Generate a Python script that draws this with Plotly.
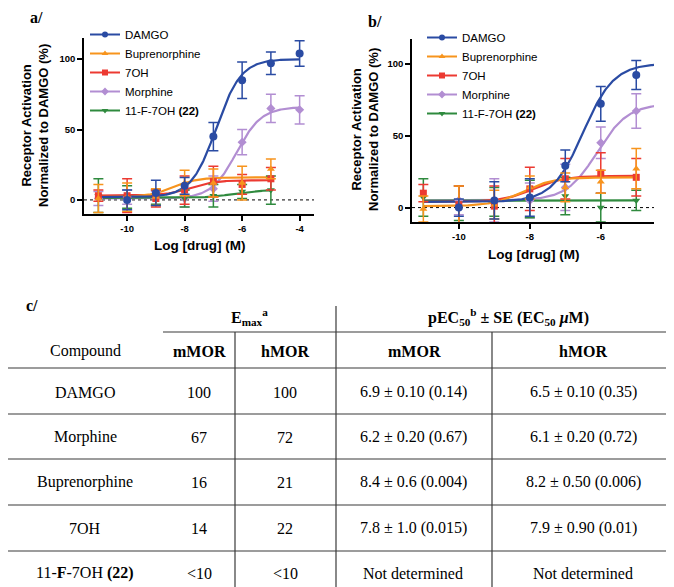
import numpy as np
import plotly.graph_objects as go

W, H = 674, 587

# ---------------- data ----------------
series_names = ["DAMGO", "Buprenorphine", "7OH", "Morphine", "11-F-7OH"]
legend_labels = ["DAMGO", "Buprenorphine", "7OH", "Morphine", "11-F-7OH <b>(22)</b>"]
colors = ["#2a4ba3", "#f7941d", "#ec3a32", "#b28ed2", "#2f8a3e"]
symbols = ["circle", "triangle-up", "square", "diamond", "triangle-down"]

# Panel a (mMOR) measured points
a_x = {
    "DAMGO": [-10, -9, -8, -7, -6, -5, -4],
    "Buprenorphine": [-11, -10, -9, -8, -7, -6, -5],
    "7OH": [-11, -10, -9, -8, -7, -6, -5],
    "Morphine": [-11, -10, -9, -8, -7, -6, -5, -4],
    "11-F-7OH": [-11, -10, -9, -8, -7, -6, -5],
}
a_y = {
    "DAMGO": [0, 5, 10, 45, 85, 97, 104],
    "Buprenorphine": [1, 2, 2, 12, 12, 12, 22],
    "7OH": [3, 3, 1, 7, 13, 11, 15],
    "Morphine": [1, 2, 1, 1, 8, 41, 65, 64],
    "11-F-7OH": [3, 2, 2, 1, 3, 6, 7],
}
a_err = {
    "DAMGO": [7, 9, 6, 10, 13, 8, 9],
    "Buprenorphine": [10, 10, 6, 9, 10, 12, 7],
    "7OH": [4, 12, 6, 10, 11, 7, 8],
    "Morphine": [5, 5, 5, 6, 9, 9, 10, 10],
    "11-F-7OH": [12, 8, 5, 6, 8, 5, 10],
}
# fitted curve parameters (bottom, top, logEC50, last x of fitted curve)
a_fit = {
    "DAMGO": (2, 100, -6.9, -4),
    "Buprenorphine": (2, 16, -8.4, -5),
    "7OH": (3, 14, -7.8, -5),
    "Morphine": (1, 66, -6.2, -4),
    "11-F-7OH": (1.5, 7, -6.3, -5),
}

# Panel b (hMOR) measured points
b_x = {
    "DAMGO": [-10, -9, -8, -7, -6, -5],
    "Buprenorphine": [-11, -10, -9, -8, -7, -6, -5],
    "7OH": [-11, -10, -9, -8, -7, -6, -5],
    "Morphine": [-10, -9, -8, -7, -6, -5],
    "11-F-7OH": [-11, -10, -9, -8, -7, -6, -5],
}
b_y = {
    "DAMGO": [0, 5, 7, 29, 72, 92],
    "Buprenorphine": [-1, 0, 2, 14, 14, 18, 27],
    "7OH": [10, 2, 1, 13, 20, 24, 21],
    "Morphine": [5, 5, 5, 14, 45, 67],
    "11-F-7OH": [7, 3, 4, 6, 8, 0, 5],
}
b_err = {
    "DAMGO": [6, 13, 13, 11, 12, 10],
    "Buprenorphine": [9, 15, 10, 8, 10, 8, 14],
    "7OH": [6, 13, 14, 15, 14, 14, 13],
    "Morphine": [10, 15, 12, 16, 11, 12],
    "11-F-7OH": [13, 12, 10, 13, 13, 10, 7],
}
b_fit = {
    "DAMGO": (4, 100, -6.5, -4.5),
    "Buprenorphine": (1, 21, -8.2, -5),
    "7OH": (4, 22, -7.9, -5),
    "Morphine": (5, 72, -6.1, -4.5),
    "11-F-7OH": (4.8, 5, -8.0, -5),
}

# Table
table_compounds = ["DAMGO", "Morphine", "Buprenorphine", "7OH", "11-<b>F</b>-7OH <b>(22)</b>"]
emax_m = ["100", "67", "16", "14", "<10"]
emax_h = ["100", "72", "21", "22", "<10"]
pec_m = ["6.9 ± 0.10 (0.14)", "6.2 ± 0.20 (0.67)", "8.4 ± 0.6 (0.004)", "7.8 ± 1.0 (0.015)", "Not determined"]
pec_h = ["6.5 ± 0.10 (0.35)", "6.1 ± 0.20 (0.72)", "8.2 ± 0.50 (0.006)", "7.9 ± 0.90 (0.01)", "Not determined"]

# ---------------- figure ----------------
SANS = "Arial, Liberation Sans, sans-serif"
SERIF = "Times New Roman, Liberation Serif, serif"

fig = go.Figure()


def px_x(p):
    return p / W


def px_y(p):
    return 1 - p / H


def add_panel(xs, ys, errs, fits, xa, ya, legend):
    order = ["Morphine", "11-F-7OH", "7OH", "Buprenorphine", "DAMGO"]
    for name in order:
        i = series_names.index(name)
        bottom, top, logec, xend = fits[name]
        xc = np.linspace(-11, xend, 250)
        yc = bottom + (top - bottom) / (1 + 10 ** (logec - xc))
        fig.add_trace(go.Scatter(x=xc, y=yc, mode="lines", xaxis=xa, yaxis=ya,
                                 line=dict(color=colors[i], width=2.2),
                                 showlegend=False, hoverinfo="skip"))
    for name in order:
        i = series_names.index(name)
        fig.add_trace(go.Scatter(
            x=xs[name], y=ys[name], mode="markers", xaxis=xa, yaxis=ya,
            marker=dict(color=colors[i], symbol=symbols[i], size=8 if i == 0 else 7),
            error_y=dict(type="data", array=errs[name], color=colors[i], thickness=1.5, width=5),
            showlegend=False))
    for i, name in enumerate(series_names):
        fig.add_trace(go.Scatter(
            x=[None], y=[None], mode="lines+markers", xaxis=xa, yaxis=ya,
            name=legend_labels[i], legend=legend,
            line=dict(color=colors[i], width=2),
            marker=dict(color=colors[i], symbol=symbols[i], size=6)))


add_panel(a_x, a_y, a_err, a_fit, "x", "y", "legend")
add_panel(b_x, b_y, b_err, b_fit, "x2", "y2", "legend2")

axis_common = dict(showgrid=False, zeroline=False, showline=True, linecolor="black",
                   linewidth=1.6, ticks="outside", ticklen=5, tickwidth=1.6, tickcolor="black",
                   tickfont=dict(family=SANS, size=9.5, color="black", weight="bold"))

fig.update_layout(
    width=W, height=H, margin=dict(l=0, r=0, t=0, b=0),
    paper_bgcolor="white", plot_bgcolor="white",
    xaxis=dict(domain=[px_x(76), px_x(306)], range=[-11.5, -3.5], anchor="y",
               tickvals=[-10, -8, -6, -4], ticktext=["-10", "-8", "-6", "-4"], **axis_common),
    yaxis=dict(domain=[px_y(206), px_y(30)], range=[-10, 115], anchor="x",
               tickvals=[0, 50, 100], **axis_common),
    xaxis2=dict(domain=[px_x(404), px_x(646)], range=[-11.32, -4.5], anchor="y2",
                tickvals=[-10, -8, -6], ticktext=["-10", "-8", "-6"], **axis_common),
    yaxis2=dict(domain=[px_y(214), px_y(31)], range=[-10, 117], anchor="x2",
                tickvals=[0, 50, 100], **axis_common),
    legend=dict(x=px_x(77), y=px_y(12), xanchor="left", yanchor="top",
                bgcolor="rgba(0,0,0,0)", itemwidth=30, tracegroupgap=0,
                font=dict(family=SANS, size=11.5, color="black")),
    legend2=dict(x=px_x(414), y=px_y(15), xanchor="left", yanchor="top",
                 bgcolor="rgba(0,0,0,0)", itemwidth=30, tracegroupgap=0,
                 font=dict(family=SANS, size=11.5, color="black")),
    showlegend=True,
)

shapes = []
# dotted zero lines
for xr, yr in (("x", "y"), ("x2", "y2")):
    shapes.append(dict(type="line", xref=xr + " domain", yref=yr, x0=0, x1=1, y0=0, y1=0,
                       line=dict(color="black", width=1, dash="dot"), layer="below"))

annotations = []


def text_at(text, xc, yc, family, size, angle=0):
    annotations.append(dict(text=text, x=px_x(xc), y=px_y(yc), xref="paper", yref="paper",
                            xanchor="center", yanchor="middle", textangle=angle,
                            showarrow=False, font=dict(family=family, size=size, color="black")))


# axis titles
for xc, yc in ((27, 118), (357, 122)):
    text_at("<b>Receptor Activation<br>Normalized to DAMGO (%)</b>", xc, yc, SANS, 13, -90)
text_at("<b>Log [drug] (M)</b>", 191, 237, SANS, 13.5)
text_at("<b>Log [drug] (M)</b>", 525, 246, SANS, 13.5)
# panel labels
for lab, xc, yc in (("a/", 28, 9), ("b/", 367, 13), ("c/", 24, 298)):
    text_at("<b>" + lab + "</b>", xc, yc, SERIF, 16)

# ---------------- table ----------------
LC = "#3a3a3a"
hlines_full = [360, 406, 451, 497, 543, 586]
for yl in hlines_full:
    shapes.append(dict(type="line", xref="paper", yref="paper", x0=0, x1=1,
                       y0=px_y(yl), y1=px_y(yl), line=dict(color=LC, width=1.2)))
shapes.append(dict(type="line", xref="paper", yref="paper", x0=px_x(155), x1=1,
                   y0=px_y(324), y1=px_y(324), line=dict(color=LC, width=1.2)))
for xv, ytop in ((328, 298), (227, 324), (484, 324)):
    shapes.append(dict(type="line", xref="paper", yref="paper", x0=px_x(xv), x1=px_x(xv),
                       y0=px_y(ytop), y1=px_y(586), line=dict(color=LC, width=1.2)))


def cell(text, xc, yc, size=16):
    text_at(text, xc, yc, SERIF, size)


cell("<b>E<sub>max</sub><sup>a</sup></b>", 241, 309)
cell("<b>pEC<sub>50</sub><sup>b</sup> ± SE (EC<sub>50</sub> <i>μ</i>M)</b>", 500, 309)
cell("Compound", 77, 343)
cell("<b>mMOR</b>", 191, 343)
cell("<b>hMOR</b>", 277, 343)
cell("<b>mMOR</b>", 406, 343)
cell("<b>hMOR</b>", 575, 343)
row_y = [384, 429, 474, 520, 565]
for r in range(len(table_compounds)):
    cell(table_compounds[r], 77, row_y[r])
    cell(emax_m[r], 191, row_y[r])
    cell(emax_h[r], 277, row_y[r])
    cell(pec_m[r], 405, row_y[r])
    cell(pec_h[r], 575, row_y[r])

fig.update_layout(shapes=shapes, annotations=annotations)
fig.write_html("out.html")
